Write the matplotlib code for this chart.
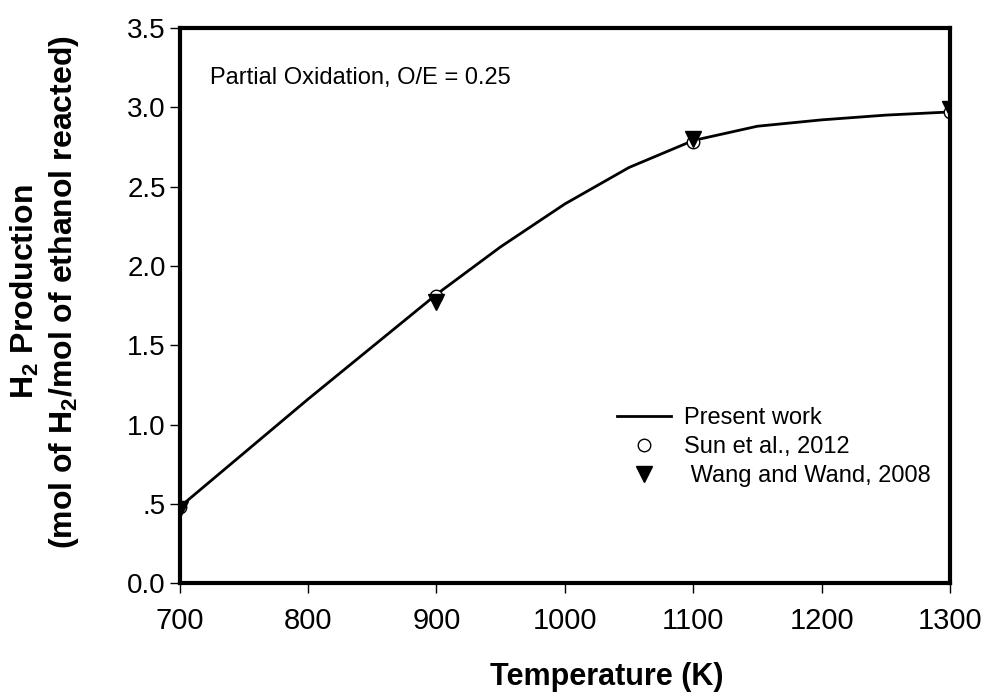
import numpy as np
import matplotlib
matplotlib.use('Agg')
from matplotlib import pyplot as plt

plt.rcParams['font.family'] = ['Liberation Sans', 'DejaVu Sans']
plt.rcParams['mathtext.fontset'] = 'custom'
plt.rcParams['mathtext.rm'] = 'Liberation Sans'
plt.rcParams['mathtext.bf'] = 'Liberation Sans:bold'

# present work curve
temp_line = [700, 750, 800, 850, 900, 950, 1000, 1050, 1100, 1150, 1200, 1250, 1300]
h2_line = [0.48, 0.82, 1.16, 1.49, 1.82, 2.12, 2.39, 2.62, 2.79, 2.88, 2.92, 2.95, 2.97]

# literature points
temp_pts = [700, 900, 1100, 1300]
h2_sun = [0.48, 1.81, 2.78, 2.97]
h2_wang = [0.47, 1.77, 2.80, 2.99]

xticks = [700, 800, 900, 1000, 1100, 1200, 1300]
yticks = [0.0, 0.5, 1.0, 1.5, 2.0, 2.5, 3.0, 3.5]
ylabels = ['0.0', '.5', '1.0', '1.5', '2.0', '2.5', '3.0', '3.5']

fig = plt.figure(figsize=(9.87, 6.96), dpi=100)
ax = fig.add_axes([0.182, 0.162, 0.7805, 0.798])

ax.plot(temp_line, h2_line, color='black', lw=2, label='Present work')
ax.plot(temp_pts, h2_sun, 'o', ms=9, mfc='white', mec='black', mew=1.0,
        ls='none', label='Sun et al., 2012')
ax.plot(temp_pts, h2_wang, 'v', ms=11, color='black', ls='none',
        label=' Wang and Wand, 2008')

ax.set_xlim(700, 1300)
ax.set_ylim(0, 3.5)
ax.set_xticks(xticks)
ax.set_yticks(yticks)
ax.set_yticklabels(ylabels)
ax.tick_params(direction='out', length=7, width=1, labelsize=21)
ax.tick_params(axis='x', pad=10)
ax.tick_params(axis='y', pad=3, labelsize=20)
for s in ax.spines.values():
    s.set_linewidth(3)

ax.set_xlabel('Temperature (K)', fontsize=22, fontweight='bold')
ax.xaxis.set_label_coords(0.555, -0.142)
ax.set_ylabel('H$_\\mathbf{2}$ Production\n(mol of H$_\\mathbf{2}$/mol of ethanol reacted)',
              fontsize=23, fontweight='bold', linespacing=1.25)
ax.yaxis.set_label_coords(-0.128, 0.524)

ax.text(0.039, 0.91, 'Partial Oxidation, O/E = 0.25', transform=ax.transAxes,
        fontsize=17, va='center', ha='left')

leg = ax.legend(loc='upper left', bbox_to_anchor=(0.54, 0.355), frameon=False,
                fontsize=17, handlelength=2.3, handletextpad=0.55,
                labelspacing=0.3)

plt.savefig('out.png', dpi=100)
